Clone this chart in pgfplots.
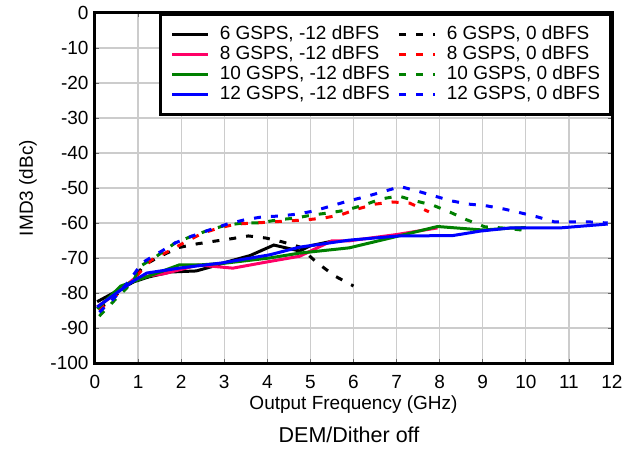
\documentclass[border=0pt]{standalone}
\usepackage{fontspec}
\setmainfont{Liberation Sans}
\usepackage{pgfplots}
\pgfplotsset{compat=1.18}
\definecolor{cpink}{RGB}{255,0,102}
\definecolor{cgreen}{RGB}{0,128,0}
\definecolor{cblue}{RGB}{0,0,255}
\definecolor{cred}{RGB}{255,0,0}
\begin{document}
\begin{tikzpicture}
\useasboundingbox (0pt,0pt) rectangle (643pt,453pt);
\begin{axis}[
  at={(95pt,90pt)}, anchor=south west,
  scale only axis, width=517pt, height=350pt,
  xmin=0, xmax=12, ymin=-100, ymax=0,
  xtick={0,1,...,12}, ytick={-100,-90,...,0},
  grid=major, major grid style={line width=1.2pt, color=black!20},
  axis line style={line width=3pt},
  tick style={line width=0.8pt, color=black!60}, major tick length=4pt,
  /pgf/number format/assume math mode=true,
  tick label style={font=\fontsize{19}{22}\selectfont},
  xticklabel style={yshift=-9pt},
  yticklabel style={xshift=-3pt},
  label style={font=\fontsize{19}{22}\selectfont},
  xlabel={Output Frequency (GHz)},
  ylabel={IMD3 (dBc)},
  xlabel style={at={(axis description cs:0.5,-0.12)}, anchor=center},
  ylabel style={at={(axis description cs:-0.1296,0.5)}, anchor=center},
  every axis plot/.append style={line width=3pt},
  legend columns=2,
  legend cell align=left,
  legend image code/.code={\draw[#1] (0pt,0pt) -- (36pt,0pt);},
  legend style={at={(rel axis cs:1,1)}, anchor=north east, draw=black,
    line width=3pt, fill=white, font=\fontsize{19}{22}\selectfont,
    inner xsep=10.5pt, inner ysep=11.8pt,
    nodes={inner sep=0pt, text height=13.5pt, text depth=3pt},
    row sep=3.5pt,
    /tikz/every odd column/.append style={column sep=10pt},
    /tikz/every even column/.append style={column sep=8pt}},
]
% 6 GSPS
\addplot[black] coordinates {(0.05,-82.5) (0.5,-79.5) (0.9,-76.8) (1.25,-75.4) (1.75,-74) (2.35,-73.7) (2.7,-72.5) (3.1,-71) (3.6,-69.3) (4.15,-66.3) (4.75,-68) (5.0,-66.5) (5.5,-65.2)};
\addlegendentry{6 GSPS, -12 dBFS}
\addplot[black, dash pattern=on 7pt off 10pt] coordinates {(0.1,-84.5) (0.5,-80.5) (0.9,-76) (1.14,-72) (1.53,-69.4) (1.95,-67) (2.35,-66) (2.77,-65.2) (3.16,-64.5) (3.56,-63.7) (3.97,-64.3) (4.35,-65.4) (4.74,-66.8) (5.16,-71.4) (5.56,-75.1) (6.0,-78)};
\addlegendentry{6 GSPS, 0 dBFS}
% 8 GSPS
\addplot[cpink] coordinates {(0.05,-84) (0.5,-80) (0.9,-76) (1.2,-75.2) (1.6,-74.5) (2.4,-72) (3.2,-72.9) (4.05,-71) (4.75,-69.5) (5.5,-65.1) (5.9,-65.1) (7.0,-63.3) (7.95,-61.4)};
\addlegendentry{8 GSPS, -12 dBFS}
\addplot[cred, dash pattern=on 7pt off 10pt] coordinates {(0.1,-85) (0.5,-80.5) (0.9,-76) (1.3,-70.6) (1.72,-68) (2.1,-65.4) (2.5,-62.9) (2.88,-61.4) (3.28,-60.3) (3.7,-60) (4.1,-59.7) (4.49,-59.4) (4.9,-59.1) (5.3,-58.6) (5.7,-57.7) (6.09,-56) (6.51,-54.6) (6.9,-54) (7.3,-54.3) (7.75,-56.8)};
\addlegendentry{8 GSPS, 0 dBFS}
% 10 GSPS
\addplot[cgreen] coordinates {(0.05,-84.5) (0.6,-78) (1.2,-75.4) (1.95,-72) (2.4,-72) (3.0,-71.5) (4.05,-70) (4.75,-68.6) (5.9,-67.1) (6.85,-64.3) (7.95,-61) (9.0,-62) (9.6,-61.5) (10,-61.3)};
\addlegendentry{10 GSPS, -12 dBFS}
\addplot[cgreen, dash pattern=on 7pt off 10pt] coordinates {(0.1,-86.6) (0.5,-81.5) (0.9,-76.5) (1.02,-72.6) (1.44,-69.4) (1.86,-65.7) (2.26,-63.7) (2.65,-62) (3.05,-60.6) (3.44,-60) (3.83,-60) (4.23,-59.1) (4.65,-58.6) (5.05,-57.7) (5.44,-57.1) (5.84,-56.3) (6.23,-54.9) (6.65,-53.1) (7.05,-52.3) (7.44,-53.7) (7.84,-54.9) (8.24,-56.9) (8.63,-59.1) (9.05,-61.1) (9.44,-61.4) (9.9,-62)};
\addlegendentry{10 GSPS, 0 dBFS}
% 12 GSPS
\addplot[cblue] coordinates {(0.05,-84) (0.5,-80) (0.9,-76.5) (1.2,-74.3) (1.95,-72.9) (2.95,-71.4) (4.05,-69.1) (4.75,-66.9) (5.9,-64.9) (7.05,-63.7) (8.3,-63.6) (8.95,-62.3) (9.65,-61.4) (10.8,-61.4) (11.9,-60.3)};
\addlegendentry{12 GSPS, -12 dBFS}
\addplot[cblue, dash pattern=on 7pt off 10pt] coordinates {(0.1,-85.5) (0.45,-81.4) (0.81,-76.3) (1.09,-71.4) (1.47,-68.6) (1.86,-65.7) (2.26,-63.7) (2.65,-62) (3.07,-60.3) (3.47,-59.1) (3.86,-58.3) (4.28,-58) (4.67,-57.5) (5.07,-56.6) (5.49,-55.1) (5.88,-53.7) (6.28,-52.5) (6.67,-51.1) (7.09,-49.6) (7.49,-50.9) (7.88,-52.3) (8.28,-53.7) (8.67,-54.6) (9.09,-55.1) (9.49,-56) (9.88,-57.1) (10.28,-58.3) (10.67,-59.7) (11.09,-59.7) (11.49,-59.7) (11.9,-60)};
\addlegendentry{12 GSPS, 0 dBFS}
\end{axis}
\node[font=\fontsize{21.5}{24}\selectfont] at (349pt,18pt) {DEM/Dither off};
\end{tikzpicture}
\end{document}
